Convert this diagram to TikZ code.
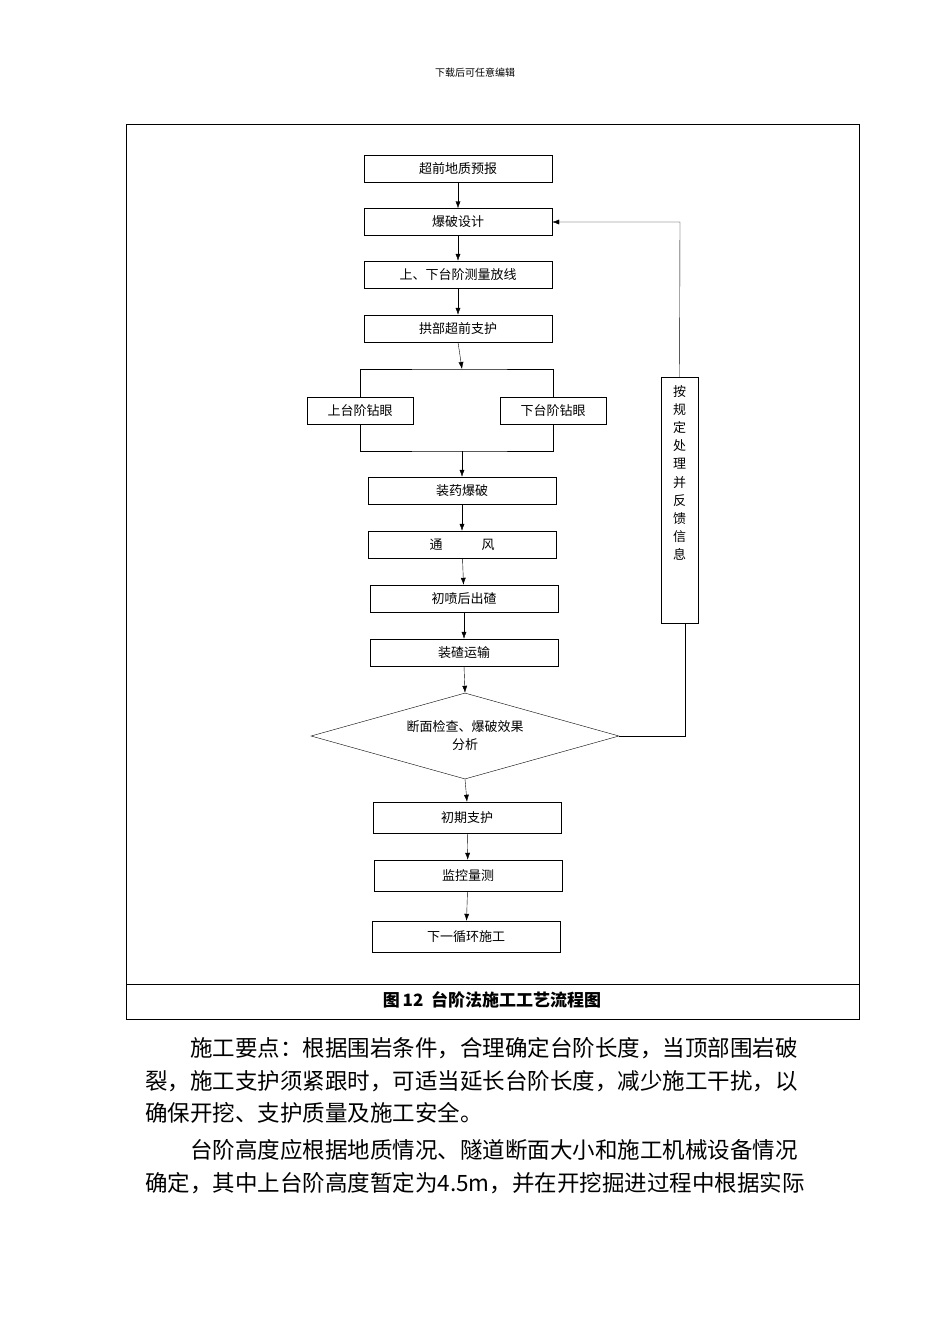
\documentclass[tikz,border=0pt]{standalone}
\usepackage{fontspec}
\setmainfont{Noto Sans CJK SC}
\usetikzlibrary{shapes.geometric,arrows.meta}
\begin{document}
\begin{tikzpicture}[x=1pt,y=-1pt,
  bx/.style={draw,minimum height=27pt,inner sep=0pt,font=\fontsize{13}{15}\selectfont},
  ar/.style={-{Latex[length=7pt,width=5pt]}},
  body/.style={anchor=west,inner sep=0pt,font=\fontsize{22.5}{24}\selectfont}]
\useasboundingbox (0,0) rectangle (950,1344);
\node[font=\fontsize{10}{12}\selectfont] (hd) at (475,73) {下载后可任意编辑};
\draw (126,124) rectangle (859,1019);
\draw (126,984) -- (859,984);
\node[font=\bfseries\fontsize{17}{19}\selectfont] (cap) at (492,1000) {图\,12\ \ 台阶法施工工艺流程图};
\node[bx,minimum width=188pt] (b1) at (458,168.5) {超前地质预报};
\node[bx,minimum width=188pt] (b2) at (458,222) {爆破设计};
\node[bx,minimum width=188pt] (b3) at (458,274.5) {上、下台阶测量放线};
\node[bx,minimum width=188pt] (b4) at (458,328.5) {拱部超前支护};
\node[bx,minimum width=106pt] (l) at (360,410.5) {上台阶钻眼};
\node[bx,minimum width=106pt] (r) at (553,410.5) {下台阶钻眼};
\node[bx,minimum width=188pt] (b5) at (462,490.5) {装药爆破};
\node[bx,minimum width=188pt] (b6) at (462,544.5) {通\hspace{3em}风};
\node[bx,minimum width=188pt] (b7) at (464,598.5) {初喷后出碴};
\node[bx,minimum width=188pt] (b8) at (464,652.5) {装碴运输};
\node[draw,diamond,aspect=3.58,minimum width=308pt,minimum height=86pt,inner sep=0pt,align=center,font=\fontsize{13}{18}\selectfont] (d) at (465,736) {断面检查、爆破效果\\分析};
\node[bx,minimum width=188pt,minimum height=31pt] (b9) at (467,817.5) {初期支护};
\node[bx,minimum width=188pt,minimum height=31pt] (b10) at (468,875.5) {监控量测};
\node[bx,minimum width=188pt,minimum height=31pt] (b11) at (466,936.5) {下一循环施工};
\node[draw,minimum width=37pt,minimum height=246pt,inner sep=0pt,anchor=north] (s) at (679.5,377) {};
\node[align=center,inner sep=0pt,anchor=north,font=\fontsize{13}{18.2}\selectfont] (st) at (679.5,385) {按\\规\\定\\处\\理\\并\\反\\馈\\信\\息};
% connectors
\draw[ar] (b1) -- (b2);
\draw[ar] (b2) -- (b3);
\draw[ar] (b3) -- (b4);
\coordinate (t) at (462,369);
\coordinate (j) at (462,451);
\draw[ar] (b4.south) -- (t);
\draw (l.north) |- (t) -| (r.north);
\draw (l.south) |- (j) -| (r.south);
\draw[ar] (j) -- (b5.north);
\draw[ar] (b5) -- (b6);
\draw[ar] (b6) -- (b7);
\draw[ar] (b7) -- (b8);
\draw[ar] (b8.south) -- (d.north);
\draw[ar] (d.south) -- (b9.north);
\draw[ar] (b9) -- (b10);
\draw[ar] (b10) -- (b11);
\coordinate (c1) at (685,736);
\coordinate (c2) at (680,222);
\draw (d.east) -- (c1) -- (685,623);
\draw[ar] (s.north) -- (c2) -- (b2.east);
% body text
\node[body] (p1) at (190,1048) {施工要点：根据围岩条件，合理确定台阶长度，当顶部围岩破};
\node[body] (p2) at (145,1081) {裂，施工支护须紧跟时，可适当延长台阶长度，减少施工干扰，以};
\node[body] (p3) at (145,1113) {确保开挖、支护质量及施工安全。};
\node[body] (p4) at (190,1150) {台阶高度应根据地质情况、隧道断面大小和施工机械设备情况};
\node[body] (p5) at (145,1183) {确定，其中上台阶高度暂定为4.5m，并在开挖掘进过程中根据实际};
\end{tikzpicture}
\end{document}
